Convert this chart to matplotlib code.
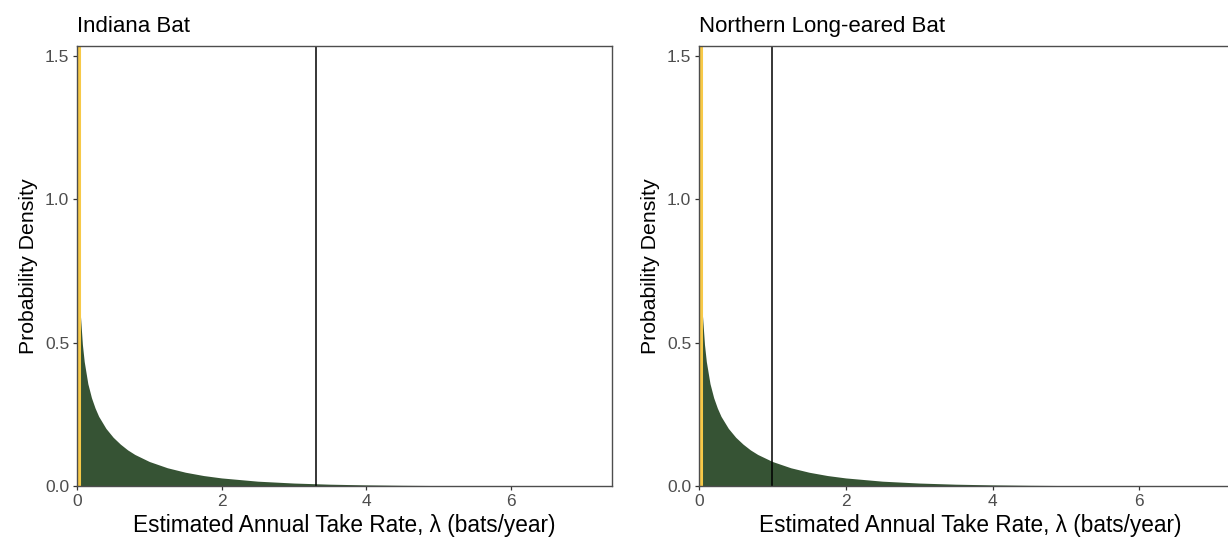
import matplotlib
matplotlib.use("Agg")
from matplotlib import pyplot as plt

# density of the annual take rate
lam = [0.02, 0.05, 0.075, 0.1, 0.15, 0.2, 0.25, 0.3, 0.4, 0.5, 0.6, 0.7, 0.8,
       1.0, 1.25, 1.5, 1.75, 2.0, 2.5, 3.0, 3.5, 4.0, 4.5, 5.0]
dens = [0.68, 0.585, 0.493, 0.434, 0.357, 0.308, 0.272, 0.243, 0.201, 0.170,
        0.146, 0.126, 0.110, 0.0855, 0.0636, 0.048, 0.0365, 0.0281, 0.0168,
        0.0103, 0.0063, 0.0039, 0.0024, 0.0015]

titles = ['Indiana Bat', 'Northern Long-eared Bat']
take_line = [3.3, 1.0]     # black vertical line
yellow_line = [0.03, 0.03]  # yellow vertical line near zero

plt.rcParams['font.family'] = ['Liberation Sans', 'DejaVu Sans']

fig = plt.figure(figsize=(12.28, 5.44), dpi=100)
fig.patch.set_facecolor('white')

boxes = [[77/1228, 58/544, 535/1228, 440/544],
         [699/1228, 58/544, 543/1228, 440/544]]

for i in range(2):
    ax = fig.add_axes(boxes[i])
    ax.fill_between(lam, dens, 0, color='#365334', linewidth=0)
    ax.axvline(yellow_line[i], color='#F7C948', linewidth=2.2)
    ax.axvline(take_line[i], color='black', linewidth=1.1)
    ax.set_xlim(0, 7.4)
    ax.set_ylim(0, 1.535)
    ax.set_xticks([0, 2, 4, 6])
    ax.set_yticks([0.0, 0.5, 1.0, 1.5])
    ax.set_yticklabels(['0.0', '0.5', '1.0', '1.5'])
    for s in ax.spines.values():
        s.set_color('#4D4D4D')
        s.set_linewidth(1.0)
    ax.tick_params(length=3, width=0.9, color='#333333', labelcolor='#4D4D4D',
                   labelsize=12.5, pad=2.5)
    ax.set_xlabel('Estimated Annual Take Rate, λ (bats/year)', fontsize=16.3, labelpad=4)
    ax.set_ylabel('Probability Density', fontsize=15.3, labelpad=5)
    ax.set_title(titles[i], loc='left', fontsize=16, pad=10)

fig.savefig('out.png', dpi=100)
